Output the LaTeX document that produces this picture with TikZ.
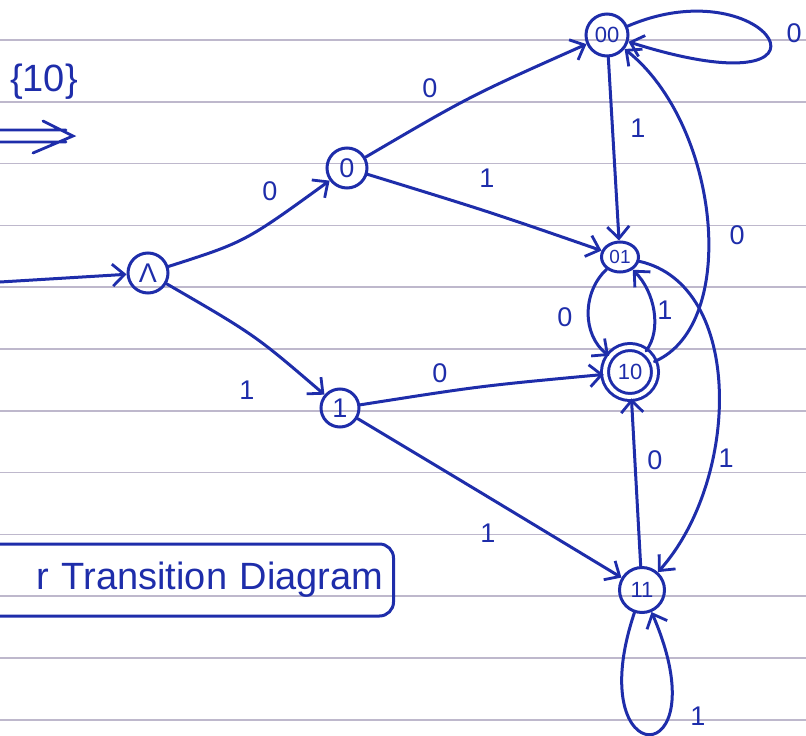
\documentclass[tikz,border=0pt]{standalone}
\usepackage{fontspec}
\setmainfont{Liberation Sans}
\usetikzlibrary{arrows.meta,shapes.geometric}
\definecolor{ink}{RGB}{30,45,170}
\definecolor{ruling}{RGB}{190,184,204}
\begin{document}
\begin{tikzpicture}[x=1pt,y=-1pt,line cap=round,
  st/.style={circle,draw=ink,line width=3pt,minimum size=40pt,inner sep=0pt,
    text=ink,font=\fontsize{27}{29}\selectfont},
  two/.style={font=\fontsize{22}{24}\selectfont},
  acc/.style={st,double=white,double distance=4pt,minimum size=50pt},
  tr/.style={draw=ink,line width=3pt,
    -{Straight Barb[length=12pt,width=22pt,line width=2.8pt]}},
  lb/.style={text=ink,font=\fontsize{27}{29}\selectfont,inner sep=0pt},
  boxed/.style={draw=ink,line width=3pt,rounded corners=14pt,text=ink,
    font=\fontsize{38}{40}\selectfont}]
\useasboundingbox (0,0) rectangle (806,736);
\begin{scope}
\clip (0,0) rectangle (806,736);
% ruled paper
\foreach \k in {0,...,11}{
  \draw[ruling,line width=1.6pt] (0,{40+61.8*\k}) -- (806,{40+61.8*\k});
}
% states
\node[st] (L) at (148,273) {Λ};
\node[st] (n0) at (347,168) {0};
\node[st,minimum size=38pt] (n1) at (340,408) {1};
\node[st,two,minimum size=42pt] (n00) at (607,35) {00};
\node[st,ellipse,minimum width=37pt,minimum height=30pt,font=\fontsize{19}{21}\selectfont] (n01) at (620,257) {01};
\node[acc,two] (n10) at (630,372) {10};
\node[st,two,minimum size=45pt] (n11) at (642,590) {11};
% start arrow
\coordinate (s) at (0,282);
\draw[tr] (s) -- (L);
% transitions
\draw[tr] (L) .. controls (245,242) .. (n0);
\draw[tr] (L) .. controls (255,335) .. (n1);
\draw[tr] (n0) .. controls (470,96) .. (n00);
\draw[tr] (n0) .. controls (490,212) .. (n01);
\draw[tr] (n1) .. controls (480,386) .. (n10);
\draw[tr] (n1) .. controls (480,492) .. (n11);
\draw[tr] (n00) -- (n01);
\draw[tr] (n01) .. controls (582,292) and (582,335) .. (n10);
\draw[tr] (n10) .. controls (662,330) and (655,292) .. (n01);
\draw[tr] (n10) .. controls (740,325) and (720,125) .. (n00);
\draw[tr] (n01) .. controls (745,285) and (740,480) .. (n11);
\draw[tr] (n11) -- (n10);
\draw[tr] (n00) .. controls (770,-35) and (860,115) .. (n00);
\draw[tr] (n11) .. controls (580,775) and (722,775) .. (n11);
% labels
\node[lb] (a1) at (270,191) {0};
\node[lb] (a2) at (247,390) {1};
\node[lb] (a3) at (430,88) {0};
\node[lb] (a4) at (487,178) {1};
\node[lb] (a5) at (440,373) {0};
\node[lb] (a6) at (488,533) {1};
\node[lb] (a7) at (638,128) {1};
\node[lb] (a8) at (565,317) {0};
\node[lb] (a9) at (665,310) {1};
\node[lb] (a10) at (737,235) {0};
\node[lb] (a11) at (726,458) {1};
\node[lb] (a12) at (655,460) {0};
\node[lb] (a13) at (698,716) {1};
\node[lb] (a14) at (794,33) {0};
% side notes
\node[text=ink,font=\fontsize{38}{40}\selectfont,anchor=east,inner sep=0pt] (set) at (78,82) {\{10\}};
\coordinate (d1) at (0,130);
\coordinate (d2) at (66,130);
\coordinate (d3) at (0,142);
\coordinate (d4) at (66,142);
\coordinate (dt) at (73,136);
\coordinate (db1) at (43,121);
\coordinate (db2) at (33,153);
\draw[ink,line width=2.8pt] (d1) -- (d2) (d3) -- (d4) (db1) -- (dt) -- (db2);
\node[boxed,anchor=east,text width=400pt,align=right,inner xsep=10pt,minimum height=72pt] (title) at (395,580) {r Transition Diagram};
\end{scope}
\end{tikzpicture}
\end{document}
